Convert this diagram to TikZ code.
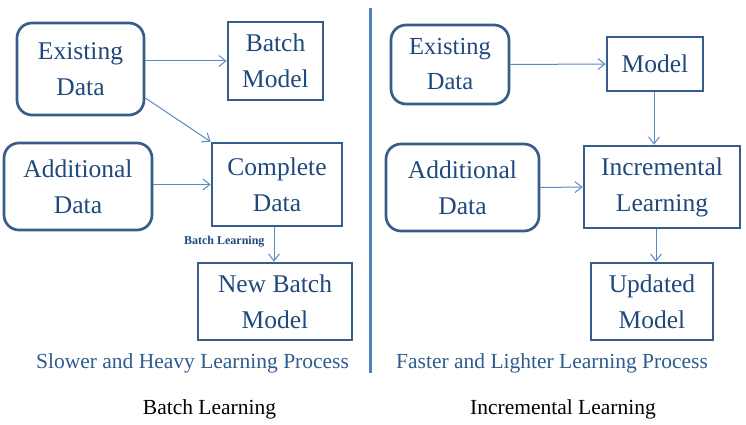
\documentclass[tikz,border=0pt]{standalone}
\usepackage{fontspec}
\setmainfont{Liberation Serif}
\usetikzlibrary{arrows.meta}
\definecolor{boxline}{HTML}{385D8A}
\definecolor{arrowblue}{HTML}{5B8BC6}
\definecolor{textblue}{HTML}{1F497D}
\definecolor{subblue}{HTML}{2E5C8E}
\definecolor{divblue}{HTML}{4F81BD}
\begin{document}
\begin{tikzpicture}[x=1pt,y=-1pt,
  box/.style={draw=boxline,line width=2.7pt,inner sep=0pt,align=center,
    text=textblue,font=\fontsize{25.5}{36}\selectfont},
  rbox/.style={box,rounded corners=15pt},
  conn/.style={draw=arrowblue,line width=1pt,-{Straight Barb[length=7pt,width=11pt,line width=1pt]}},
  subtitle/.style={text=subblue,font=\fontsize{21.5}{24}\selectfont},
  caption/.style={text=black,font=\fontsize{21.5}{24}\selectfont},
  small/.style={text=textblue,font=\bfseries\fontsize{12}{14}\selectfont}]
\useasboundingbox (0,0) rectangle (746,425);
\fill[white] (0,0) rectangle (746,425);
% left: batch learning
\node[rbox,minimum width=127pt,minimum height=92pt] (ed1) at (80.5,69) {Existing\\Data};
\node[box,minimum width=95pt,minimum height=78pt] (bm) at (275.5,61) {Batch\\Model};
\node[rbox,minimum width=148pt,minimum height=87pt] (ad1) at (78,186.5) {Additional\\Data};
\node[box,minimum width=130pt,minimum height=83pt] (cd) at (277,184.5) {Complete\\Data};
\node[box,minimum width=154pt,minimum height=77pt] (nbm) at (275,301.5) {New Batch\\Model};
\draw[conn] (ed1.east |- bm.west) -- (bm.west);
\draw[conn] ([yshift=-29pt]ed1.east) -- (cd.north west);
\draw[conn] (ad1.east |- cd.west) -- (cd.west);
\draw[conn] ([xshift=-3pt]cd.south) -- ([xshift=-3pt]cd.south |- nbm.north);
\node[small,anchor=east] (bl) at (268,242) {Batch Learning};
\node[subtitle] (s1) at (192.5,363) {Slower and Heavy Learning Process};
\node[caption] (c1) at (209.5,409) {Batch Learning};
% divider
\coordinate (dt) at (370.5,8);
\coordinate (db) at (370.5,373);
\draw[divblue,line width=3pt] (dt) -- (db);
% right: incremental learning
\node[rbox,minimum width=118pt,minimum height=79pt,font=\fontsize{24.5}{35}\selectfont] (ed2) at (450,64.5) {Existing\\Data};
\node[box,minimum width=96pt,minimum height=54pt] (md) at (655,64) {Model};
\node[rbox,minimum width=153pt,minimum height=87pt] (ad2) at (462.5,187.5) {Additional\\Data};
\node[box,minimum width=156pt,minimum height=82pt] (il) at (662,187) {Incremental\\Learning};
\node[box,minimum width=122pt,minimum height=77pt] (um) at (652,301.5) {Updated\\Model};
\draw[conn] (ed2.east) -- (md.west);
\draw[conn] ([xshift=-1pt]md.south) -- ([xshift=-1pt]md.south |- il.north);
\draw[conn] (ad2.east) -- (il.west);
\draw[conn] ([xshift=4pt]um.north |- il.south) -- ([xshift=4pt]um.north);
\node[subtitle] (s2) at (552,363) {Faster and Lighter Learning Process};
\node[caption] (c2) at (563,409) {Incremental Learning};
\end{tikzpicture}
\end{document}
